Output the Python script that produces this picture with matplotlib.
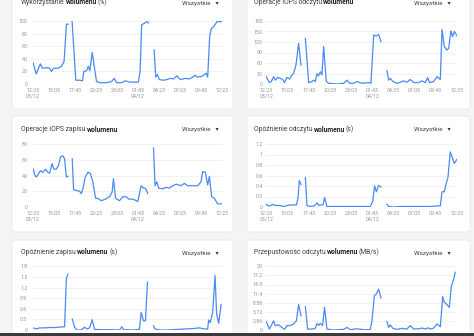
import numpy as np
import matplotlib
matplotlib.use('Agg')
import matplotlib.pyplot as plt
from matplotlib.patches import FancyBboxPatch, Rectangle

nan = float('nan')

# ---- data (minutes after 12:23 on 03/12) ----
util_t = [0,25,56,71,102,127,140,158,191,217,237,255,268, 283,
          298,326,357,377,387,408,421,433,451,484,510,561,599,619,637,675,701,739,803,816,828,846,867,879, 900,
          923,935,948,963,994,1020,1045,1071,1096,1122,1160,1185,1211,1236,1249,1287,1320,1331,1346,1359,1376,1402,1435]
util_v = [34,16,32,25,26,25,20,25,25,28,36,95,95, nan,
          99,6,6,5,20,21,28,21,50,4,2,2,4,9,2,2,5,3,3,20,94,96,99,97, nan,
          54,11,15,7,6,7,9,8,13,7,9,8,10,14,11,12,17,11,75,88,91,99,99]

riops_t = [0,23,38,55,68,86,106,123,138,156,176,194,206,224,244,262, 278,
           295,320,345,357,370,383,395,408,420,433,453,471,534,584,609,629,659,685,722,773,790,811,831,848,866, 888,
           911,924,936,956,987,1012,1037,1062,1087,1113,1150,1176,1201,1218,1233,1264,1289,1314,1327,1344,1364,1377,1394,1407,1420,1440]
riops_v = [21,4,7,21,11,19,16,13,4,19,14,26,30,54,116,54, nan,
           130,4,7,11,7,30,23,35,26,107,7,2,0,2,11,2,2,7,2,4,2,140,137,142,121, nan,
           38,11,16,7,2,5,9,5,13,4,4,9,4,18,4,7,21,13,156,107,97,102,152,135,150,137]

wiops_t = [0,13,25,38,56,76,96,114,127,145,160,177,195,210,228,241,254,266, 282,
           299,309,330,355,368,380,398,418,436,456,477,494,520,553,583,603,613,629,659,684,710,730,761,799,811,824,842,854,862,875, 896,
           918,930,943,958,989,1014,1039,1065,1090,1128,1153,1179,1217,1255,1280,1293,1313,1331,1344,1361,1382,1407,1440]
wiops_v = [49,41,38,41,46,44,48,44,43,55,48,48,53,64,65,61,38,39, nan,
           61,22,21,20,17,23,38,44,43,32,11,11,8,10,13,19,36,11,8,13,13,10,10,7,17,27,24,24,22,17, nan,
           75,27,32,24,23,25,24,27,29,27,30,27,27,27,32,45,44,28,39,13,11,4,4]

rlat_t = [0,18,35,50,68,93,118,136,156,194,227,239,249,262, 278,
          295,307,332,362,383,395,408,428,440,458,508,584,659,735,785,803,818,831,848,866, 888,
          911,924,961,1012,1062,1113,1188,1238,1289,1314,1327,1344,1359,1372,1389,1402,1420,1440]
rlat_v = [.05,.02,.03,.05,.03,.03,.02,.01,.03,.04,.04,.16,.50,.43, nan,
          .56,.03,.01,.02,.08,.03,.04,.04,.18,.01,.01,.01,.01,.01,.01,.10,.40,.29,.41,.38, nan,
          .05,.01,.00,.01,.01,.01,.01,.01,.02,.02,.29,.29,.45,.57,1.05,.96,.83,.91]

wlat_t = [0,25,51,89,127,165,203,228,241,254,266, 282,
          299,317,335,368,393,411,431,451,469,507,583,659,677,690,761,811,824,842,857,872, 895,
          918,930,963,1014,1065,1115,1166,1217,1268,1306,1331,1338,1351,1369,1387,1399,1415,1433]
wlat_v = [.06,.03,.06,.06,.07,.07,.08,.09,.09,1.44,1.58, nan,
          .31,.08,0,0,.08,.03,.06,.29,.02,.01,.01,0,.09,.01,0,.02,.50,.26,.26,1.35, nan,
          .12,.03,0,0,.01,.02,.03,.04,.06,.03,.03,.28,.21,.50,1.54,.45,.19,.72]

rtp_t = [0,23,38,55,68,93,118,138,156,181,206,227,244,262, 278,
         295,312,345,370,383,395,408,425,440,458,508,584,609,634,685,735,785,798,816,831,848,866, 888,
         911,924,936,956,987,1024,1062,1087,1113,1150,1176,1201,1226,1238,1264,1289,1314,1332,1344,1364,1382,1397,1415,1427]
rtp_v = [2.6,0.3,1.4,2.9,1.4,1.6,0.8,0.2,1.4,1.4,1.9,2.9,8.0,4.5, nan,
         7.3,0.3,0.3,0.5,2.1,1.4,2.1,1.4,7.1,0.3,0.0,0.2,0.8,0.1,0.4,0.1,0.1,2.9,10.8,11.3,12.8,10.1, nan,
         2.7,0.8,1.6,0.5,0.2,0.5,0.3,1.4,0.3,0.4,0.6,0.3,0.7,0.3,0.6,1.9,1.0,10.5,8.7,8.0,7.1,13.6,16.0,18.1]

x_ticks = [0,160,320,480,640,800,960,1120,1280,1440]
x_labels = ["12:23\n03/12","15:03","17:43","20:23","23:03","01:43\n04/12","04:23","07:03","09:43","12:23"]

titles = [
    [("Wykorzystanie", "normal"), ("wolumenu", "bold"), ("(%)", "normal")],
    [("Operacje IOPS odczytu", "normal"), ("wolumenu", "bold")],
    [("Operacje IOPS zapisu", "normal"), ("wolumenu", "bold")],
    [("Opóźnienie odczytu", "normal"), ("wolumenu", "bold"), ("(s)", "normal")],
    [("Opóźnienie zapisu", "normal"), ("wolumenu", "bold"), ("(s)", "normal")],
    [("Przepustowość odczytu", "normal"), ("wolumenu", "bold"), ("(MB/s)", "normal")],
]
filter_label = "Wszystkie"

y_ticks = [
    ([0,20,40,60,80,100], ["0","20","40","60","80","100"], 100),
    ([0,30,60,90,120,150,180], ["0","30","60","90","120","150","180"], 180),
    ([0,20,40,60,80], ["0","20","40","60","80"], 80),
    ([0,.2,.4,.6,.8,1.0,1.2], ["0","0.2","0.4","0.6","0.8","1","1.2"], 1.2),
    ([0,.3,.6,.9,1.2,1.5,1.8], ["0","0.3","0.6","0.9","1.2","1.5","1.8"], 1.8),
    ([k*20/7 for k in range(8)], ["0","2.86","5.72","8.58","11.4","14.3","17.2","20"], 20),
]
series = [(util_t, util_v), (riops_t, riops_v), (wiops_t, wiops_v),
          (rlat_t, rlat_v), (wlat_t, wlat_v), (rtp_t, rtp_v)]

# ---- layout (pixels) ----
W, H = 474, 336
FONT = ['Roboto', 'DejaVu Sans']
fig = plt.figure(figsize=(W/100, H/100), dpi=100)
fig.patch.set_facecolor('#f3f4f6')

def fx(px): return px / W
def fy(py): return 1 - py / H

cols = [(12, 233), (247, 470)]
rows = [(-10, 109), (116, 232), (240, 360)]
for (c0, c1) in cols:
    for (r0, r1) in rows:
        p = FancyBboxPatch((fx(c0), fy(r1)), fx(c1) - fx(c0), fy(r0) - fy(r1),
                           boxstyle="round,pad=0,rounding_size=0.008",
                           transform=fig.transFigure, facecolor='white',
                           edgecolor='#e6e7ea', linewidth=0.5, zorder=-5)
        fig.patches.append(p)

plot_x = [(33, 222), (266.3, 457)]
plot_y = [(21, 84), (144, 207), (266.3, 330)]
title_x = [21, 254]
title_y = [2.5, 129.5, 252.5]
filt_x = [219, 451]

renderer = fig.canvas.get_renderer()
TS = 4.9
for i in range(6):
    r, c = divmod(i, 2)
    x0, x1 = plot_x[c]
    y0, y1 = plot_y[r]
    ax = fig.add_axes([fx(x0), fy(y1), fx(x1) - fx(x0), fy(y0) - fy(y1)])
    ax.set_zorder(1)
    ax.patch.set_alpha(0)
    t, v = series[i]
    ax.plot(t, v, color='#4a8af4', lw=0.9, solid_joinstyle='round')
    ticks, labels, ymax = y_ticks[i]
    ax.set_xlim(0, 1440)
    ax.set_ylim(0, ymax)
    ax.set_yticks(ticks)
    ax.set_yticklabels(labels)
    ax.set_xticks(x_ticks)
    if r < 2:
        ax.set_xticklabels(x_labels, linespacing=1.1)
    else:
        ax.tick_params(axis='x', labelbottom=False)
    for s in ax.spines.values():
        s.set_visible(False)
    ax.tick_params(length=0, labelsize=3.8, labelcolor='#93969b')
    ax.tick_params(axis='y', pad=4 if c == 0 else 2.5)
    ax.tick_params(axis='x', pad=3.2)
    for lab in ax.get_xticklabels() + ax.get_yticklabels():
        lab.set_family(FONT)
    ax.grid(axis='y', color='#ededef', lw=0.5)
    ax.set_axisbelow(True)

    # title with bold part
    xx = title_x[c]
    for j, (s, w) in enumerate(titles[i]):
        txt = fig.text(fx(xx), fy(title_y[r]), s, fontsize=TS, fontweight=w,
                       family=FONT, color='#202124' if w == 'bold' else '#3c4043',
                       ha='left', va='center')
        bb = txt.get_window_extent(renderer)
        xx = bb.x1 + TS * 0.14 * 100 / 72
    fig.text(fx(filt_x[c]), fy(title_y[r] + 0.5), filter_label + "   \u25BE", fontsize=4.6,
             family=FONT, color='#3c4043', ha='right', va='center')

fig.patches.append(Rectangle((0, 0), 1, fy(333), transform=fig.transFigure,
                             facecolor='#3b3b3d', edgecolor='none', zorder=10))

fig.savefig('out.png', dpi=100, facecolor=fig.get_facecolor())
